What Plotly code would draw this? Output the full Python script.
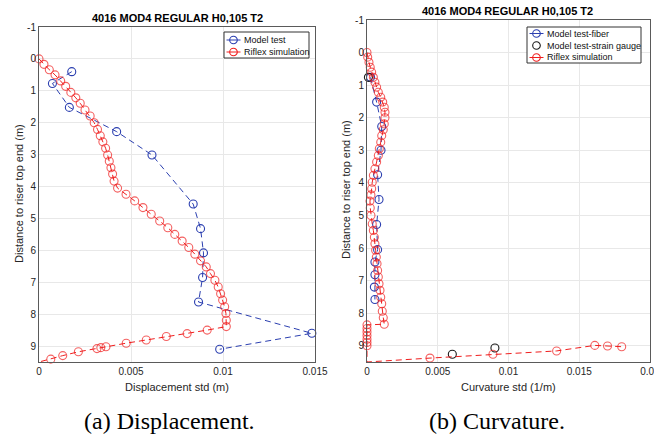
import plotly.graph_objects as go

# ---- Displacement panel ----
disp_test_x = [0.00178, 0.00073, 0.00165, 0.00422, 0.00614, 0.00838, 0.00878,
               0.00894, 0.00889, 0.00867, 0.01483, 0.00982]
disp_test_y = [0.40, 0.77, 1.52, 2.28, 3.01, 4.55, 5.32, 6.08, 6.85, 7.62, 8.60, 9.10]

disp_sim_x = [0.0, 0.00027, 0.00056, 0.00087, 0.00118, 0.00145, 0.00173, 0.00200,
              0.00224, 0.00250, 0.00278, 0.00300, 0.00318, 0.00333, 0.00347, 0.00362,
              0.00373, 0.00382, 0.00391, 0.00400, 0.00408, 0.00427, 0.00473, 0.00520,
              0.00565, 0.00610, 0.00656, 0.00700, 0.00738, 0.00778, 0.00814, 0.00847,
              0.00878, 0.00909, 0.00932, 0.00956, 0.00974, 0.00987, 0.00998, 0.01009,
              0.01016, 0.01018, 0.01018, 0.00914, 0.00805, 0.00692, 0.00583, 0.00474,
              0.00364, 0.00336, 0.00315, 0.00214, 0.00129, 0.00064, 0.0]
disp_sim_y = [0.0, 0.17, 0.34, 0.50, 0.69, 0.86, 1.05, 1.22, 1.39, 1.60, 1.79, 2.00,
              2.21, 2.41, 2.60, 2.80, 3.01, 3.21, 3.41, 3.61, 3.83, 4.05, 4.24, 4.45,
              4.66, 4.87, 5.08, 5.29, 5.50, 5.71, 5.91, 6.12, 6.33, 6.52, 6.73, 6.94,
              7.15, 7.36, 7.56, 7.77, 7.98, 8.19, 8.39, 8.50, 8.61, 8.70, 8.81, 8.91,
              9.02, 9.05, 9.08, 9.18, 9.30, 9.41, 9.50]

# ---- Curvature panel ----
curv_fiber_x = [0.00025, 0.00068, 0.00104, 0.00099, 0.00075, 0.00085, 0.00068,
                0.00075, 0.00056, 0.00056, 0.00052, 0.00056]
curv_fiber_y = [0.76, 1.52, 2.27, 3.00, 3.75, 4.51, 5.28, 6.05, 6.43, 6.82, 7.20, 7.58]

curv_gauge_x = [0.00010, 0.00603, 0.00904]
curv_gauge_y = [0.76, 9.26, 9.07]

curv_sim_x = [0.0, 0.00005, 0.00014, 0.00023, 0.00033, 0.00045, 0.00056, 0.00068,
              0.00080, 0.00097, 0.00111, 0.00122, 0.00127, 0.00127, 0.00122, 0.00115,
              0.00104, 0.00097, 0.00087, 0.00080, 0.00068, 0.00056, 0.00045, 0.00037,
              0.00033, 0.00028, 0.00021, 0.00023, 0.00028, 0.00037, 0.00045, 0.00052,
              0.00056, 0.00061, 0.00066, 0.00071, 0.00075, 0.00080, 0.00085, 0.00092,
              0.00097, 0.00104, 0.00108, 0.00115, 0.00122,
              0.0, 0.0, 0.0, 0.0, 0.0, 0.0, 0.0,
              0.0, 0.00445, 0.00890, 0.01340, 0.01610, 0.01700, 0.01800]
curv_sim_y = [0.0, 0.14, 0.30, 0.45, 0.60, 0.76, 0.91, 1.06, 1.22, 1.37, 1.52, 1.68,
              1.83, 2.00, 2.19, 2.37, 2.55, 2.75, 2.95, 3.16, 3.36, 3.57, 3.77, 3.98,
              4.18, 4.37, 4.56, 4.77, 5.00, 5.26, 5.46, 5.67, 5.87, 6.07, 6.28, 6.48,
              6.69, 6.89, 7.10, 7.30, 7.51, 7.71, 7.94, 8.14, 8.34,
              8.36, 8.47, 8.58, 8.69, 8.80, 8.90, 9.00,
              9.50, 9.38, 9.26, 9.16, 8.99, 9.01, 9.03]

y_ticks = list(range(-1, 10))
y_tick_text = [str(v) for v in y_ticks]
disp_ticks = [0, 0.005, 0.01, 0.015]
disp_tick_text = ["0", "0.005", "0.01", "0.015"]
curv_ticks = [0, 0.005, 0.01, 0.015, 0.02]
curv_tick_text = ["0", "0.005", "0.01", "0.015", "0.02"]

title_text = "4016 MOD4 REGULAR H0,105 T2"
disp_names = ["Model test", "Riflex simulation"]
curv_names = ["Model test-fiber", "Model test-strain gauge", "Riflex simulation"]

BLUE = "#2b3fb0"
RED = "#f01e1e"
BLACK = "#1a1a1a"
FONT = "Liberation Sans, Arial, sans-serif"
SERIF = "Liberation Serif, Times New Roman, serif"
DASH = "6px,4px"
W, H = 654, 437


def sizes(ys, base=8):
    # the riser tip sits on the lower axis edge; its marker is not shown
    return [0 if y >= 9.5 else base for y in ys]


def marker(color, size=8):
    return dict(symbol="circle-open", size=size, color=color, line=dict(width=1.1))


fig = go.Figure()

fig.add_trace(go.Scatter(
    x=disp_test_x, y=disp_test_y, name=disp_names[0], mode="lines+markers",
    line=dict(color=BLUE, width=1, dash=DASH), marker=marker(BLUE),
    xaxis="x", yaxis="y", cliponaxis=False))
fig.add_trace(go.Scatter(
    x=disp_sim_x, y=disp_sim_y, name=disp_names[1], mode="lines+markers",
    line=dict(color=RED, width=1, dash=DASH), marker=marker(RED, sizes(disp_sim_y)),
    xaxis="x", yaxis="y", cliponaxis=False))

fig.add_trace(go.Scatter(
    x=curv_fiber_x, y=curv_fiber_y, name=curv_names[0], mode="lines+markers",
    line=dict(color=BLUE, width=1, dash=DASH), marker=marker(BLUE),
    xaxis="x2", yaxis="y2", cliponaxis=False))
fig.add_trace(go.Scatter(
    x=curv_gauge_x, y=curv_gauge_y, name=curv_names[1], mode="markers",
    marker=marker(BLACK), xaxis="x2", yaxis="y2", cliponaxis=False))
fig.add_trace(go.Scatter(
    x=curv_sim_x, y=curv_sim_y, name=curv_names[2], mode="lines+markers",
    line=dict(color=RED, width=1, dash=DASH), marker=marker(RED, sizes(curv_sim_y)),
    xaxis="x2", yaxis="y2", cliponaxis=False))

axis_common = dict(
    showline=True, mirror=True, linecolor="#5a5a5a", linewidth=1,
    showgrid=True, gridcolor="#e8e8e8", gridwidth=1, zeroline=False,
    ticks="", automargin=False, ticklabeloverflow="allow",
    tickfont=dict(family=FONT, size=10, color="#262626"),
)

# panel boxes in pixels
L = dict(x0=39, x1=315, y0=27, y1=362)
R = dict(x0=367, x1=650, y0=20, y1=362)


def xdom(p):
    return [p["x0"] / W, p["x1"] / W]


def ydom(p):
    return [1 - p["y1"] / H, 1 - p["y0"] / H]


fig.update_layout(
    width=W, height=H, margin=dict(l=0, r=0, t=0, b=0, autoexpand=False),
    paper_bgcolor="white", plot_bgcolor="white", showlegend=False,
    font=dict(family=FONT, size=10, color="#262626"),
    xaxis=dict(axis_common, domain=xdom(L), range=[0, 0.015], anchor="y",
               tickvals=disp_ticks, ticktext=disp_tick_text),
    yaxis=dict(axis_common, domain=ydom(L), range=[9.5, -1], anchor="x",
               tickvals=y_ticks, ticktext=y_tick_text),
    xaxis2=dict(axis_common, domain=xdom(R), range=[0, 0.02], anchor="y2",
                tickvals=curv_ticks, ticktext=curv_tick_text),
    yaxis2=dict(axis_common, domain=ydom(R), range=[9.5, -1], anchor="x2",
                tickvals=y_ticks, ticktext=y_tick_text),
)

ann = []
shapes = []


def px_ann(text, x, y, size, xanchor="center", family=FONT, color="#000000", **kw):
    ann.append(dict(text=text, x=x / W, y=1 - y / H, xref="paper", yref="paper",
                    showarrow=False, xanchor=xanchor, yanchor="middle",
                    font=dict(family=family, size=size, color=color), **kw))


def legend_box(x0, y0, x1, y1, rows, entries):
    """Compact boxed legend: short dashed sample, open circle, label."""
    shapes.append(dict(type="rect", xref="paper", yref="paper",
                       x0=x0 / W, x1=x1 / W, y0=1 - y1 / H, y1=1 - y0 / H,
                       line=dict(color="#333333", width=1), fillcolor="white",
                       layer="above"))
    for ry, (name, color, has_line) in zip(rows, entries):
        lx0, lx1 = x0 + 2.5, x0 + 16.5
        cx = (lx0 + lx1) / 2
        if has_line:
            shapes.append(dict(type="line", xref="paper", yref="paper",
                               x0=lx0 / W, x1=lx1 / W, y0=1 - ry / H, y1=1 - ry / H,
                               line=dict(color=color, width=1), layer="above"))
        r = 3.8
        shapes.append(dict(type="circle", xref="paper", yref="paper",
                           x0=(cx - r) / W, x1=(cx + r) / W,
                           y0=1 - (ry + r) / H, y1=1 - (ry - r) / H,
                           line=dict(color=color, width=1.1), fillcolor="rgba(0,0,0,0)",
                           layer="above"))
        px_ann(name, x0 + 18, ry, 9, xanchor="left", color="#111111")


legend_box(224, 32, 309, 58, [40, 52],
           [(disp_names[0], BLUE, True), (disp_names[1], RED, True)])
legend_box(527, 27, 641, 63, [33.5, 45.5, 57.5],
           [(curv_names[0], BLUE, True), (curv_names[1], BLACK, False),
            (curv_names[2], RED, True)])

px_ann("<b>" + title_text + "</b>", 177.5, 18, 11)
px_ann("<b>" + title_text + "</b>", 507.5, 11, 11)
px_ann("Displacement std (m)", 177, 387, 11, color="#262626")
px_ann("Curvature std (1/m)", 508, 387, 11, color="#262626")
px_ann("Distance to riser top end (m)", 19, 194, 11, color="#262626", textangle=-90)
px_ann("Distance to riser top end (m)", 346, 190, 11, color="#262626", textangle=-90)
px_ann("(a) Displacement.", 170, 421, 24, family=SERIF)
px_ann("(b) Curvature.", 497, 421, 24, family=SERIF)

fig.update_layout(annotations=ann, shapes=shapes)

fig.write_html("out.html")
